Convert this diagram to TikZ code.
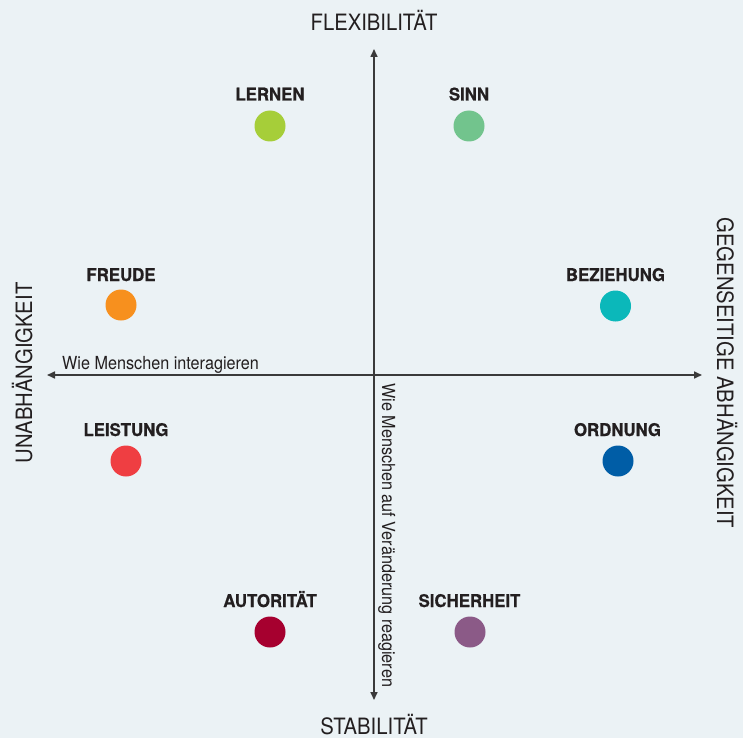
\documentclass[tikz,border=0pt]{standalone}
\usepackage{fontspec}
\setmainfont{TeX Gyre Heros}[FakeStretch=0.9]
\newfontfamily\labfont{TeX Gyre Heros}[FakeStretch=0.96, BoldFeatures={FakeBold=0.7}]
\usetikzlibrary{arrows.meta}

\definecolor{bgcol}{HTML}{EBF2F5}
\definecolor{axiscol}{HTML}{3A3A3A}
\definecolor{txtcol}{HTML}{231F20}
\definecolor{cLernen}{HTML}{A6CE39}
\definecolor{cSinn}{HTML}{72C48D}
\definecolor{cFreude}{HTML}{F7901E}
\definecolor{cBeziehung}{HTML}{0BB8BA}
\definecolor{cLeistung}{HTML}{EF3E42}
\definecolor{cOrdnung}{HTML}{005DA6}
\definecolor{cAutoritaet}{HTML}{A6002F}
\definecolor{cSicherheit}{HTML}{8B5A87}

\tikzset{
  axisline/.style={draw=axiscol, line width=1.6pt,
    {Triangle[length=8pt,width=7pt]}-{Triangle[length=8pt,width=7pt]}},
  axistitle/.style={text=txtcol, font=\fontsize{22.5}{24}\selectfont, inner sep=0pt},
  axisnote/.style={text=txtcol, font=\fontsize{18}{20}\selectfont, inner sep=0pt},
  valuelabel/.style={text=txtcol, font=\labfont\bfseries\fontsize{17.5}{19}\selectfont, inner sep=0pt, anchor=base},
  valuedot/.style={circle, minimum size=31pt, inner sep=0pt},
}

\begin{document}
\begin{tikzpicture}[x=1pt,y=-1pt]
  % background panel
  \fill[bgcol] (0,0) rectangle (743,738);
  \useasboundingbox (0,0) rectangle (743,738);

  % axis end points
  \coordinate (top) at (374,49);
  \coordinate (bottom) at (374,700);
  \coordinate (left) at (47,375);
  \coordinate (right) at (702,375);

  % axes, arrow at both ends
  \draw[axisline] (bottom) -- (top);
  \draw[axisline] (left) -- (right);

  % axis titles
  \node[axistitle, anchor=base] (flex) at (374,31) {FLEXIBILITÄT};
  \node[axistitle, anchor=base] (stab) at (374,734) {STABILITÄT};
  \node[axistitle, anchor=base, rotate=90] (unab) at (32,373) {UNABHÄNGIGKEIT};
  \node[axistitle, anchor=base, rotate=-90] (gegen) at (717,373) {GEGENSEITIGE ABHÄNGIGKEIT};

  % axis notes
  \node[axisnote, anchor=base west] (inter) at (62,369) {Wie Menschen interagieren};
  \node[axisnote, anchor=base west, rotate=-90] (react) at (382,383) {Wie Menschen auf Veränderung reagieren};

  % values: labels and dots
  \node[valuelabel] (tLernen) at (270,100.5) {LERNEN};
  \node[valuedot, fill=cLernen] (dLernen) at (270,126) {};
  \node[valuelabel] (tSinn) at (469,100.5) {SINN};
  \node[valuedot, fill=cSinn] (dSinn) at (469,126) {};

  \node[valuelabel] (tFreude) at (121,281) {FREUDE};
  \node[valuedot, fill=cFreude] (dFreude) at (121,305) {};
  \node[valuelabel] (tBeziehung) at (615.5,281) {BEZIEHUNG};
  \node[valuedot, fill=cBeziehung] (dBeziehung) at (615.5,306) {};

  \node[valuelabel] (tLeistung) at (126,436) {LEISTUNG};
  \node[valuedot, fill=cLeistung] (dLeistung) at (126,461) {};
  \node[valuelabel] (tOrdnung) at (617.5,436) {ORDNUNG};
  \node[valuedot, fill=cOrdnung] (dOrdnung) at (618,461) {};

  \node[valuelabel] (tAutoritaet) at (270,607) {AUTORITÄT};
  \node[valuedot, fill=cAutoritaet] (dAutoritaet) at (270,632) {};
  \node[valuelabel] (tSicherheit) at (469.5,607) {SICHERHEIT};
  \node[valuedot, fill=cSicherheit] (dSicherheit) at (470,632) {};
\end{tikzpicture}
\end{document}
